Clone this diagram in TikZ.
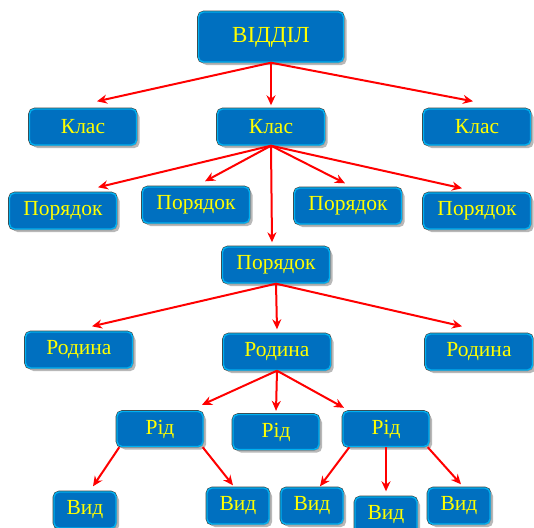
\documentclass[tikz,border=0pt]{standalone}
\usepackage{fontspec}
\setmainfont{Liberation Serif}
\usetikzlibrary{shadows,arrows.meta}
\definecolor{boxblue}{RGB}{0,112,192}
\definecolor{boxcyan}{RGB}{0,176,240}
\definecolor{txtyellow}{RGB}{255,255,0}
\tikzset{
  box/.style={rectangle, rounded corners=5pt, fill=boxblue, draw=boxcyan, line width=1.4pt,
    preaction={draw=black!75, line width=2.6pt},
    drop shadow={fill=black!35, shadow xshift=3pt, shadow yshift=-3pt, opacity=0.8},
    text=txtyellow, font=\fontsize{21.5}{24}\selectfont, inner sep=0pt, anchor=center},
  lvl/.style={box, minimum width=107pt, minimum height=36pt},
  topbox/.style={box, minimum width=145pt, minimum height=50pt, font=\fontsize{23}{26}\selectfont},
  ridbox/.style={box, minimum width=86pt, minimum height=35pt},
  vidbox/.style={box, minimum width=62pt, minimum height=36pt},
  arr/.style={draw=red, line width=2pt, -{Stealth[length=10pt,width=9pt]}}
}
\begin{document}
\begin{tikzpicture}[x=1pt,y=-1pt]
\useasboundingbox (0,0) rectangle (534,527);
\node[topbox] (top) at (271,37) {ВІДДІЛ};
\node[lvl] (kL) at (83,127) {Клас};
\node[lvl] (kM) at (271,127) {Клас};
\node[lvl] (kR) at (477,127) {Клас};
\node[lvl] (p1) at (63,211) {Порядок};
\node[lvl] (p2) at (196,205) {Порядок};
\node[lvl] (p3) at (348,206) {Порядок};
\node[lvl] (p4) at (477,211) {Порядок};
\node[lvl] (pC) at (276,265) {Порядок};
\node[lvl] (rL) at (79,350) {Родина};
\node[lvl] (rM) at (277,352) {Родина};
\node[lvl] (rR) at (479,352) {Родина};
\node[ridbox] (dL) at (160,429) {Рід};
\node[ridbox] (dM) at (276,432) {Рід};
\node[ridbox] (dR) at (386,429) {Рід};
\node[vidbox] (v1) at (85,510) {Вид};
\node[vidbox] (v2) at (238,506) {Вид};
\node[vidbox] (v3) at (312,506) {Вид};
\node[vidbox] (v4) at (386,515) {Вид};
\node[vidbox] (v5) at (459,506) {Вид};
% arrows
\draw[arr] (top.south) -- ([xshift=14pt,yshift=7pt]kL.north);
\draw[arr] (top.south) -- ([yshift=3pt]kM.north);
\draw[arr] (top.south) -- ([xshift=-4pt,yshift=7pt]kR.north);
\draw[arr] (kM.south) -- ([xshift=35pt,yshift=5pt]p1.north);
\draw[arr] (kM.south) -- ([xshift=9pt,yshift=5pt]p2.north);
\draw[arr] (kM.south) -- ([xshift=-3pt,yshift=4pt]p3.north);
\draw[arr] (kM.south) -- ([xshift=-15pt,yshift=4pt]p4.north);
\draw[arr] (kM.south) -- ([xshift=-4pt,yshift=4pt]pC.north);
\draw[arr] (pC.south) -- ([xshift=13pt,yshift=5pt]rL.north);
\draw[arr] (pC.south) -- ([yshift=4pt]rM.north);
\draw[arr] (pC.south) -- ([xshift=-17pt,yshift=7pt]rR.north);
\draw[arr] (rM.south) -- ([xshift=42pt,yshift=6pt]dL.north);
\draw[arr] (rM.south) -- ([yshift=3pt]dM.north);
\draw[arr] (rM.south) -- ([xshift=-42pt,yshift=3pt]dR.north);
\draw[arr] ([xshift=3pt]dL.south west) -- ([xshift=8pt,yshift=5pt]v1.north);
\draw[arr] ([xshift=-1pt]dL.south east) -- ([xshift=-5pt,yshift=2pt]v2.north);
\draw[arr] ([xshift=7pt]dR.south west) -- ([xshift=8pt,yshift=1pt]v3.north);
\draw[arr] (dR.south) -- ([yshift=5pt]v4.north);
\draw[arr] ([xshift=-2pt]dR.south east) -- ([xshift=2pt,yshift=3pt]v5.north);
\end{tikzpicture}
\end{document}
